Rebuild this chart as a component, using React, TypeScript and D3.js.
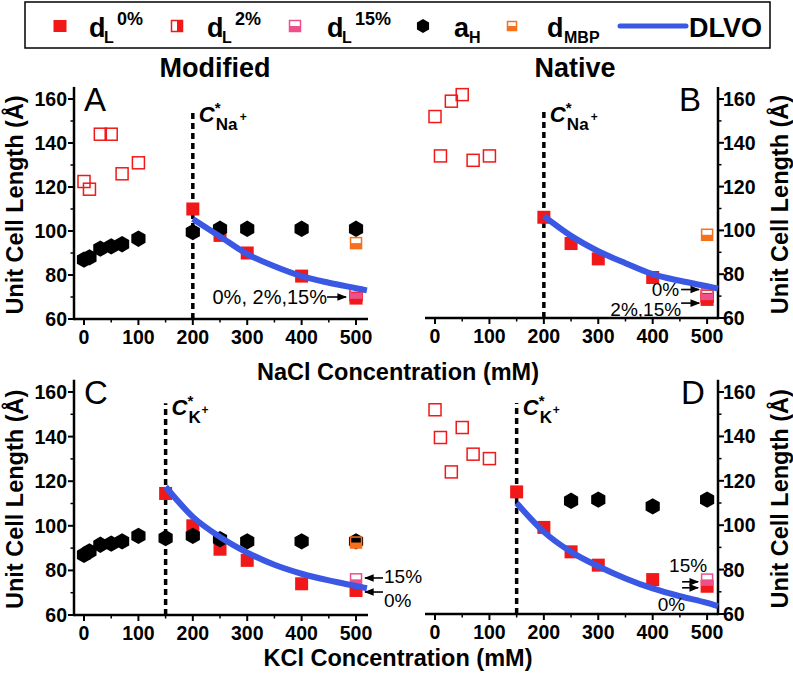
import React from "react";
import * as d3 from "d3";

type Pt = [number, number];

// ---- data (concentration mM, unit cell length Å) ----
// A: Modified, NaCl
const aOpen2: Pt[] = [[0, 122.5], [10, 119], [30, 144], [50, 144], [70, 126], [100, 131], [500, 71]];
const aHex: Pt[] = [[0, 87], [10, 88], [30, 92], [50, 93], [70, 94], [100, 96.5], [200, 99.5], [250, 101], [300, 101], [400, 101], [500, 101]];
const aRed: Pt[] = [[200, 110], [250, 98], [300, 90], [400, 79.5], [500, 69.5]];
const aPink: Pt[] = [[500, 72]];
const aMbp: Pt[] = [[500, 94.5]];
const aDlvo: Pt[] = [[200, 105.5], [250, 97.5], [300, 89.5], [350, 84], [400, 79.5], [450, 76.5], [500, 74], [520, 73]];

// B: Native, NaCl
const bOpen2: Pt[] = [[0, 152], [10, 134], [30, 159], [50, 162], [70, 132], [100, 134], [500, 70]];
const bHex: Pt[] = [];
const bRed: Pt[] = [[200, 106], [250, 94], [300, 87], [400, 78.5], [500, 68.5]];
const bPink: Pt[] = [[500, 71]];
const bMbp: Pt[] = [[500, 98]];
const bDlvo: Pt[] = [[200, 106.5], [250, 97.5], [300, 90.5], [350, 85], [400, 80], [450, 77], [500, 74.5], [520, 73.5]];

// C: Modified, KCl
const cOpen2: Pt[] = [];
const cHex: Pt[] = [[0, 87], [10, 88.5], [30, 91.5], [50, 92], [70, 93], [100, 95.5], [150, 94.5], [200, 95.5], [250, 94], [300, 93], [400, 93], [500, 93]];
const cRed: Pt[] = [[150, 114.5], [200, 100], [250, 89.5], [300, 84.5], [400, 74], [500, 71]];
const cPink: Pt[] = [[500, 76]];
const cMbp: Pt[] = [[500, 92.5]];
const cDlvo: Pt[] = [[150, 117.5], [200, 104], [250, 95], [300, 88], [350, 82.5], [400, 78.5], [450, 75.5], [500, 73], [520, 72]];

// D: Native, KCl
const dOpen2: Pt[] = [[0, 152], [10, 139.5], [30, 124], [50, 144], [70, 132], [100, 130]];
const dHex: Pt[] = [[250, 111], [300, 111.5], [400, 108.5], [500, 111.5]];
const dRed: Pt[] = [[150, 115], [200, 99], [250, 88], [300, 82], [400, 75.5], [500, 72.5]];
const dPink: Pt[] = [[500, 75.5]];
const dMbp: Pt[] = [];
const dDlvo: Pt[] = [[150, 110], [200, 97], [250, 88], [300, 81.5], [350, 76], [400, 71.5], [450, 68], [500, 65], [520, 63.5]];

const xTicks = [0, 100, 200, 300, 400, 500];
const xMinor = [50, 150, 250, 350, 450];
const yTicks = [60, 80, 100, 120, 140, 160];
const yMinor = [70, 90, 110, 130, 150];

const FONT = "'Liberation Sans', Arial, Helvetica, sans-serif";
const RED = "#f01818";
const PINK = "#ef4f8b";
const ORANGE = "#f7701c";
const BLUE = "#3a58e4";

const hexPath = (cx: number, cy: number, r: number) =>
  "M" +
  d3
    .range(6)
    .map((i) => {
      const a = ((60 * i - 90) * Math.PI) / 180;
      return `${cx + r * Math.cos(a)},${cy + r * Math.sin(a)}`;
    })
    .join("L") +
  "Z";

const HalfSquare = ({ cx, cy, s, color, dir }: any) => (
  <g>
    <rect x={cx - s / 2} y={cy - s / 2} width={s} height={s} fill="white" fillOpacity={0} stroke={color} strokeWidth={1.5} />
    {dir === "bottom" ? (
      <rect x={cx - s / 2} y={cy} width={s} height={s / 2} fill={color} />
    ) : (
      <rect x={cx} y={cy - s / 2} width={s / 2} height={s} fill={color} />
    )}
  </g>
);

const Panel = ({ p }: any) => {
  const x = d3.scaleLinear().domain(p.xDomain).range(p.xRange);
  const y = d3.scaleLinear().domain([60, 160]).range(p.yRange);
  const line = d3
    .line<Pt>()
    .x((d) => x(d[0]))
    .y((d) => y(d[1]))
    .curve(d3.curveMonotoneX);
  const left = p.side === "left";
  const ax = left ? p.xRange[0] : p.xRange[1];
  const y0 = y(60);
  const cx = x(p.crit);
  return (
    <g fontFamily={FONT}>
      {/* axes */}
      <line x1={p.xRange[0]} x2={p.xRange[1]} y1={y0} y2={y0} stroke="black" strokeWidth={2.5} />
      <line x1={ax} x2={ax} y1={y0 + 1.2} y2={y(165.5)} stroke="black" strokeWidth={2.5} />
      {xTicks.map((t) => (
        <g key={`xt${t}`}>
          <line x1={x(t)} x2={x(t)} y1={y0} y2={y0 + 6} stroke="black" strokeWidth={2} />
          <text x={x(t)} y={y0 + 25} textAnchor="middle" fontSize={19.5} fontWeight="bold">{t}</text>
        </g>
      ))}
      {xMinor.map((t) => (
        <line key={`xm${t}`} x1={x(t)} x2={x(t)} y1={y0} y2={y0 + 3.5} stroke="black" strokeWidth={1.5} />
      ))}
      {yTicks.map((t) => (
        <g key={`yt${t}`}>
          <line x1={ax} x2={left ? ax - 6 : ax + 6} y1={y(t)} y2={y(t)} stroke="black" strokeWidth={2} />
          <text
            x={left ? ax - 7 : ax + 5}
            y={y(t) + 7}
            textAnchor={left ? "end" : "start"}
            fontSize={19.5}
            fontWeight="bold"
          >
            {t}
          </text>
        </g>
      ))}
      {yMinor.map((t) => (
        <line key={`ym${t}`} x1={ax} x2={left ? ax - 3.5 : ax + 3.5} y1={y(t)} y2={y(t)} stroke="black" strokeWidth={1.5} />
      ))}
      <text
        transform={`translate(${p.yTitleX},${(y(60) + y(165.5)) / 2 + 2}) rotate(-90)`}
        textAnchor="middle"
        dominantBaseline="central"
        fontSize={23.5}
        fontWeight="bold"
      >
        Unit Cell Length (Å)
      </text>

      {/* panel letter */}
      <text x={p.letterX} y={y(160) + 12} fontSize={33}>{p.letter}</text>

      {/* critical concentration */}
      <line x1={cx} x2={cx} y1={y0} y2={y(155)} stroke="black" strokeWidth={3.5} strokeDasharray="6,4" />
      <g transform={`translate(${cx + 6},${y(155) + 12})`}>
        <text x={0} y={0} fontSize={22} fontWeight="bold" fontStyle="italic">C</text>
        <text x={16} y={-9} fontSize={15} fontWeight="bold">*</text>
        <text x={17} y={8} fontSize={17} fontWeight="bold">{p.ion}</text>
        <text x={p.ion === "Na" ? 41 : 30} y={-1} fontSize={12} fontWeight="bold">+</text>
      </g>

      {/* data */}
      {p.open2.map((d: Pt, i: number) => (
        <rect key={`o${i}`} x={x(d[0]) - 6} y={y(d[1]) - 6} width={12} height={12} fill="none" stroke={RED} strokeWidth={1.5} />
      ))}
      {p.red.map((d: Pt, i: number) => (
        <rect key={`r${i}`} x={x(d[0]) - 6.5} y={y(d[1]) - 6.5} width={13} height={13} fill={RED} />
      ))}
      {p.hex.map((d: Pt, i: number) => (
        <path key={`h${i}`} d={hexPath(x(d[0]), y(d[1]), 8.2)} fill="black" />
      ))}
      {p.mbp.map((d: Pt, i: number) => (
        <HalfSquare key={`m${i}`} cx={x(d[0])} cy={y(d[1])} s={11} color={ORANGE} dir="bottom" />
      ))}
      {p.pink.map((d: Pt, i: number) => (
        <HalfSquare key={`p${i}`} cx={x(d[0])} cy={y(d[1])} s={11} color={PINK} dir="bottom" />
      ))}
      <path d={line(p.dlvo) || ""} fill="none" stroke={BLUE} strokeWidth={6} strokeLinecap="butt" />

      {p.notes(x, y)}
    </g>
  );
};

const Arrow = ({ x1, x2, yy }: any) => (
  <line x1={x1} x2={x2} y1={yy} y2={yy} stroke="black" strokeWidth={1.6} markerEnd="url(#arr)" />
);

const panels = [
  {
    letter: "A", side: "left", ion: "Na", crit: 200,
    xDomain: [-18.4, 522], xRange: [74, 368], yRange: [319, 99],
    yTitleX: 15, letterX: 84,
    open2: aOpen2, hex: aHex, red: aRed, pink: aPink, mbp: aMbp, dlvo: aDlvo,
    notes: (x: any, y: any) => (
      <g>
        <text x={x(500) - 29} y={y(70) + 7} textAnchor="end" fontSize={20}>0%, 2%,15%</text>
        <Arrow x1={x(500) - 29} x2={x(500) - 10} yy={y(70)} />
      </g>
    ),
  },
  {
    letter: "B", side: "right", ion: "Na", crit: 200,
    xDomain: [-18.4, 520], xRange: [425, 718], yRange: [318, 99],
    yTitleX: 780, letterX: 679,
    open2: bOpen2, hex: bHex, red: bRed, pink: bPink, mbp: bMbp, dlvo: bDlvo,
    notes: (x: any, y: any) => (
      <g>
        <text x={x(500) - 28} y={y(73) + 6} textAnchor="end" fontSize={19}>0%</text>
        <Arrow x1={x(500) - 26} x2={x(500) - 8} yy={y(73)} />
        <text x={x(500) - 26} y={y(66.8) + 13} textAnchor="end" fontSize={19}>2%,15%</text>
        <Arrow x1={x(500) - 26} x2={x(500) - 8} yy={y(66.8)} />
      </g>
    ),
  },
  {
    letter: "C", side: "left", ion: "K", crit: 150,
    xDomain: [-18.4, 522], xRange: [74, 368], yRange: [615, 392],
    yTitleX: 15, letterX: 84,
    open2: cOpen2, hex: cHex, red: cRed, pink: cPink, mbp: cMbp, dlvo: cDlvo,
    notes: (x: any, y: any) => (
      <g>
        <Arrow x1={x(500) + 27} x2={x(500) + 9} yy={y(76.6)} />
        <text x={x(500) + 28} y={y(76.6) + 5} fontSize={19}>15%</text>
        <Arrow x1={x(500) + 27} x2={x(500) + 9} yy={y(70.3)} />
        <text x={x(500) + 28} y={y(70.3) + 15} fontSize={19}>0%</text>
      </g>
    ),
  },
  {
    letter: "D", side: "right", ion: "K", crit: 150,
    xDomain: [-18.4, 520], xRange: [425, 718], yRange: [614, 392],
    yTitleX: 780, letterX: 681,
    open2: dOpen2, hex: dHex, red: dRed, pink: dPink, mbp: dMbp, dlvo: dDlvo,
    notes: (x: any, y: any) => (
      <g>
        <text x={x(500)} y={y(79)} textAnchor="end" fontSize={19}>15%</text>
        <Arrow x1={x(500) - 25} x2={x(500) - 9} yy={y(74.5)} />
        <Arrow x1={x(500) - 25} x2={x(500) - 9} yy={y(71.8)} />
        <text x={x(500) - 22} y={y(60) - 3} textAnchor="end" fontSize={19}>0%</text>
      </g>
    ),
  },
];

const Legend = () => (
  <g fontFamily={FONT} fontWeight="bold">
    <rect x={25} y={2} width={745} height={46} fill="white" stroke="black" strokeWidth={1.5} />
    <rect x={53.5} y={20} width={13} height={12} fill={RED} />
    <text x={89} y={37} fontSize={27}>d</text>
    <text x={104} y={43} fontSize={16}>L</text>
    <text x={117} y={25} fontSize={18}>0%</text>

    <HalfSquare cx={177} cy={26} s={11} color={RED} dir="right" />
    <text x={207} y={37} fontSize={27}>d</text>
    <text x={222} y={43} fontSize={16}>L</text>
    <text x={235} y={25} fontSize={18}>2%</text>

    <HalfSquare cx={295} cy={26} s={11} color={PINK} dir="bottom" />
    <text x={327} y={37} fontSize={27}>d</text>
    <text x={342} y={43} fontSize={16}>L</text>
    <text x={355} y={25} fontSize={18}>15%</text>

    <path d={hexPath(423, 26, 7)} fill="black" />
    <text x={454} y={37} fontSize={27}>a</text>
    <text x={469} y={43} fontSize={16}>H</text>

    <HalfSquare cx={512} cy={26} s={9} color={ORANGE} dir="bottom" />
    <text x={547} y={37} fontSize={27}>d</text>
    <text x={564} y={43} fontSize={16}>MBP</text>

    <line x1={620} x2={686} y1={26} y2={26} stroke={BLUE} strokeWidth={5} strokeLinecap="round" />
    <text x={689} y={37} fontSize={27}>DLVO</text>
  </g>
);

export default function App() {
  return (
    <svg
      width={793}
      height={676}
      style={{ position: "absolute", left: 0, top: 0, background: "white" }}
    >
      <defs>
        <marker id="arr" viewBox="0 0 10 10" refX={9} refY={5} markerWidth={6} markerHeight={6} orient="auto">
          <path d="M0,1 L10,5 L0,9 Z" fill="black" />
        </marker>
      </defs>
      <Legend />
      <g fontFamily={FONT} fontWeight="bold">
        <text x={215} y={77} textAnchor="middle" fontSize={27}>Modified</text>
        <text x={575} y={77} textAnchor="middle" fontSize={27}>Native</text>
        <text x={398} y={380} textAnchor="middle" fontSize={23.5}>NaCl Concentration (mM)</text>
        <text x={398} y={666} textAnchor="middle" fontSize={23.5}>KCl Concentration (mM)</text>
      </g>
      {panels.map((p) => (
        <Panel key={p.letter} p={p} />
      ))}
    </svg>
  );
}
